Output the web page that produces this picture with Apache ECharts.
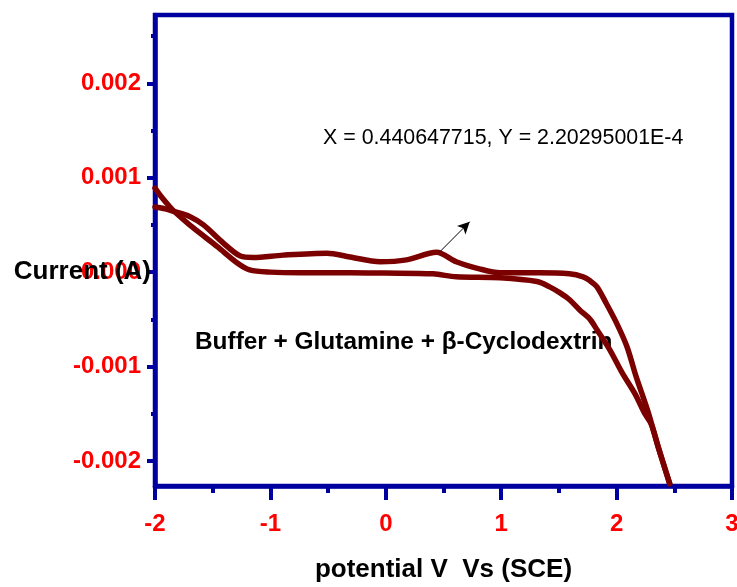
<!DOCTYPE html>
<html>
<head>
<meta charset="utf-8">
<script src="https://cdn.jsdelivr.net/npm/echarts@6/dist/echarts.min.js"></script>
<style>
html,body{margin:0;padding:0;background:#fff;}
#chart{width:737px;height:587px;}
</style>
</head>
<body>
<div id="chart"></div>
<script>
// Branch A: scan starting at -2 V (flat baseline, turns down near 1.3 V)
const scanAPotential = [-2.0, -1.94, -1.87, -1.83, -1.67, -1.46, -1.29, -1.18, -1.0, -0.74, -0.31, 0.0, 0.41, 0.61, 0.99, 1.31, 1.42, 1.51, 1.59, 1.68, 1.77, 1.83, 1.94, 2.05, 2.16, 2.24, 2.30, 2.36, 2.46];
const scanACurrent = [0.00089, 0.00079, 0.00069, 0.00064, 0.00047, 0.00027, 0.00010, 0.000024, 0.0, -0.000007, -0.000007, -0.00001, -0.000018, -0.00005, -0.00006, -0.00010, -0.000156, -0.00022, -0.00029, -0.00040, -0.00050, -0.00061, -0.00082, -0.00107, -0.00129, -0.00149, -0.00161, -0.00185, -0.00224];
// Branch B: return scan from 2.46 V back to -2 V (with humps)
const scanBPotential = [2.46, 2.36, 2.27, 2.17, 2.09, 2.0, 1.91, 1.83, 1.77, 1.71, 1.59, 1.33, 0.99, 0.81, 0.61, 0.44, 0.18, -0.05, -0.31, -0.51, -0.89, -1.15, -1.26, -1.41, -1.58, -1.70, -1.83, -1.91, -2.0];
const scanBCurrent = [-0.00224, -0.00185, -0.00147, -0.00111, -0.00079, -0.00054, -0.00033, -0.000156, -0.000092, -0.00005, -0.000018, -0.000007, -0.000007, 0.000035, 0.00011, 0.00021, 0.00013, 0.00011, 0.00016, 0.00020, 0.00018, 0.000155, 0.00017, 0.00031, 0.00050, 0.00059, 0.00064, 0.00067, 0.00069];
// Annotation arrow (data coords)
const arrowFrom = [0.468, 0.000215];
const arrowTo = [0.727, 0.000533];

const xRange = [-2, 3];
const xMajorTicks = [-2, -1, 0, 1, 2, 3];
const xMinorTicks = [-1.5, -0.5, 0.5, 1.5, 2.5];
const yRange = [-0.002265, 0.002723];
const yMajorTicks = [-0.002, -0.001, 0, 0.001, 0.002];
const yMinorTicks = [-0.0015, -0.0005, 0.0005, 0.0015, 0.0025];

const FONT = 'Arial, "Liberation Sans", sans-serif';
const FRAME = '#0000a0';
const CURVE = '#7b0000';

const pairs = (xs, ys) => xs.map((x, i) => [x, ys[i]]);

const chart = echarts.init(document.getElementById('chart'), null, {renderer: 'canvas'});

chart.setOption({
  animation: false,
  backgroundColor: '#fff',
  grid: {
    left: 155, right: 5, top: 15, bottom: 101,
    containLabel: false, outerBoundsMode: 'none',
    show: true, borderColor: FRAME, borderWidth: 4.5, backgroundColor: 'transparent'
  },
  xAxis: [
    {
      type: 'value', min: xRange[0], max: xRange[1], interval: 1,
      position: 'bottom',
      name: 'potential V  Vs (SCE)', nameLocation: 'middle', nameGap: 71,
      nameTextStyle: {fontFamily: FONT, fontSize: 26, fontWeight: 'bold', color: '#000'},
      axisLine: {show: true, onZero: false, lineStyle: {color: FRAME, width: 4.5}},
      axisTick: {show: true, length: 14, customValues: xMajorTicks, lineStyle: {color: FRAME, width: 4}},
      axisLabel: {margin: 26, customValues: xMajorTicks, fontFamily: FONT, fontSize: 24, fontWeight: 'bold', color: '#ff0000',
        formatter: v => String(Math.round(v))},
      splitLine: {show: false}
    },
    {
      type: 'value', min: xRange[0], max: xRange[1],
      position: 'bottom',
      axisLine: {show: false, onZero: false},
      axisTick: {show: true, length: 7, customValues: xMinorTicks, lineStyle: {color: FRAME, width: 4}},
      axisLabel: {show: false},
      splitLine: {show: false}
    }
  ],
  yAxis: [
    {
      type: 'value', min: yRange[0], max: yRange[1],
      position: 'left',
      axisLine: {show: true, onZero: false, lineStyle: {color: FRAME, width: 4.5}},
      axisTick: {show: true, length: 8, customValues: yMajorTicks, lineStyle: {color: FRAME, width: 4}},
      axisLabel: {margin: 14, customValues: yMajorTicks, fontFamily: FONT, fontSize: 24, fontWeight: 'bold', color: '#ff0000',
        formatter: v => v.toFixed(3)},
      splitLine: {show: false}
    },
    {
      type: 'value', min: yRange[0], max: yRange[1],
      position: 'left',
      axisLine: {show: false, onZero: false},
      axisTick: {show: true, length: 4, customValues: yMinorTicks, lineStyle: {color: FRAME, width: 4}},
      axisLabel: {show: false},
      splitLine: {show: false}
    }
  ],
  series: [
    {
      type: 'line', xAxisIndex: 0, yAxisIndex: 0,
      data: pairs(scanAPotential, scanACurrent),
      smooth: 0.3, showSymbol: false, symbol: 'none',
      lineStyle: {color: CURVE, width: 5.5, cap: 'round', join: 'round'},
      z: 3
    },
    {
      type: 'line', xAxisIndex: 0, yAxisIndex: 0,
      data: pairs(scanBPotential, scanBCurrent),
      smooth: 0.3, showSymbol: false, symbol: 'none',
      lineStyle: {color: CURVE, width: 5.5, cap: 'round', join: 'round'},
      z: 3,
      markLine: {
        silent: true, symbol: ['none', 'arrow'], symbolSize: [9, 12],
        label: {show: false},
        lineStyle: {color: '#000', width: 1, type: 'solid'},
        data: [[{coord: arrowFrom}, {coord: arrowTo}]]
      }
    }
  ],
  graphic: [
    {
      type: 'text', left: 323, top: 128, z: 1,
      style: {text: 'X = 0.440647715, Y = 2.20295001E-4', fontFamily: FONT, fontSize: 21.4, fill: '#000'}
    },
    {
      type: 'text', left: 195, top: 330, z: 1,
      style: {text: 'Buffer + Glutamine + β-Cyclodextrin', fontFamily: FONT, fontSize: 24.4, fontWeight: 'bold', fill: '#000'}
    },
    {
      type: 'text', x: 151, y: 272, z: 100,
      style: {text: 'Current (A)', fontFamily: FONT, fontSize: 26, fontWeight: 'bold', fill: '#000',
        align: 'right', verticalAlign: 'middle'}
    }
  ]
});
</script>
</body>
</html>
